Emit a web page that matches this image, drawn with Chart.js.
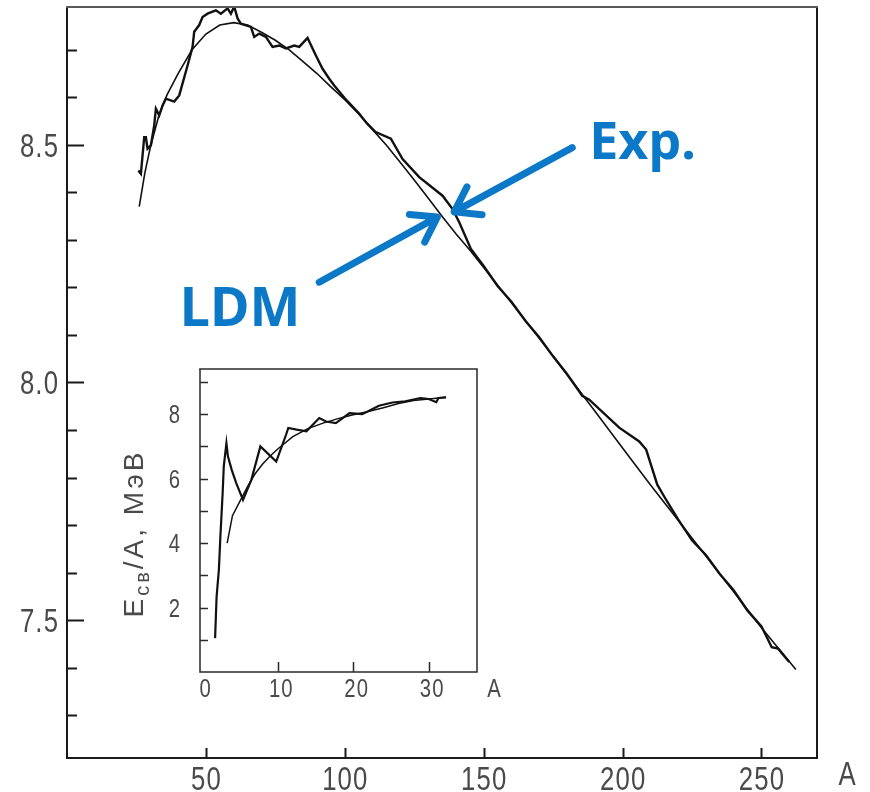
<!DOCTYPE html>
<html>
<head>
<meta charset="utf-8">
<title>Binding energy per nucleon</title>
<script src="https://cdn.jsdelivr.net/npm/chart.js@4.4.1/dist/chart.umd.min.js"></script>
<style>
  body { margin: 0; background: #fff; }
  #wrap { position: relative; width: 870px; height: 792px; }
  #main { position: absolute; left: 0; top: 0; }
  #inset { position: absolute; left: 100px; top: 360px; }
</style>
</head>
<body>
<div id="wrap">
  <canvas id="main" width="870" height="792"></canvas>
  <canvas id="inset" width="420" height="360"></canvas>
</div>
<script>
// binding energy per nucleon (MeV) against mass number A, [A, E/A]
var expMain = [[25.7,8.446],[26.6,8.439],[27.8,8.516],[28.4,8.516],[29.0,8.492],[30.2,8.499],[31.4,8.541],
  [32.0,8.576],[33.2,8.562],[34.4,8.583],[35.6,8.597],[38.6,8.591],[40.4,8.604],[43.4,8.667],[45.2,8.706],
  [45.8,8.738],[47.6,8.752],[48.8,8.769],[50.6,8.776],[53.6,8.783],[55.4,8.776],[57.8,8.787],[59.0,8.776],
  [60.2,8.791],[61.4,8.766],[62.6,8.755],[66.2,8.748],[67.4,8.727],[69.2,8.734],[71.6,8.727],[74.0,8.706],
  [76.4,8.709],[78.8,8.703],[81.8,8.709],[83.6,8.706],[86.6,8.725],[89.6,8.688],[92.0,8.660],[94.4,8.639],
  [96.2,8.625],[100,8.598],[105,8.567],[108,8.545],[111.1,8.527],[116.6,8.513],[120.8,8.470],[126.8,8.432],
  [135.2,8.393],[138.8,8.365],[141.2,8.337],[145.4,8.281],[150,8.245],[155,8.203],[160,8.170],[165,8.130],
  [170,8.095],[175,8.055],[180,8.018],[185.5,7.972],[188,7.964],[198.8,7.905],[206,7.876],[208.5,7.859],
  [212.5,7.785],[215.3,7.757],[220,7.712],[225,7.668],[230,7.637],[235,7.597],[240,7.563],[245,7.520],
  [250,7.487],[253.7,7.443],[256,7.440],[260,7.412]];

// liquid drop model
var ldmMain = [[26,8.370],[28,8.440],[30,8.495],[33,8.560],[36,8.605],[40,8.650],[45,8.700],[50,8.733],
  [55,8.752],[60,8.757],[65,8.752],[70,8.737],[75,8.720],[80,8.700],[85,8.675],[90,8.650],[95,8.622],
  [100,8.595],[105,8.565],[110,8.532],[115,8.499],[120,8.463],[125,8.426],[130,8.388],[135,8.350],
  [140,8.313],[145,8.279],[150,8.242],[160,8.168],[170,8.093],[180,8.017],[190,7.940],[200,7.862],
  [210,7.785],[220,7.710],[230,7.635],[240,7.560],[250,7.484],[262.4,7.396]];

// light nuclei, inset
var expInset = [[1.7,1.05],[1.9,2.34],[2.2,3.17],[2.4,4.2],[2.7,5.55],[2.85,6.38],[3.2,7.1],[3.4,6.69],
  [3.9,6.27],[4.5,5.86],[5.4,5.34],[6.5,5.96],[7.7,7.0],[9.8,6.53],[11.1,7.36],[11.4,7.57],[12.5,7.52],
  [13.8,7.47],[15.5,7.88],[16.4,7.77],[17.7,7.72],[19.5,8.03],[21.2,8.0],[23.4,8.26],[25.2,8.36],
  [26.9,8.40],[28.9,8.50],[30.0,8.47],[31.0,8.37],[31.3,8.5],[32.3,8.52]];
var ldmInset = [[3.3,4.0],[4,4.85],[5,5.3],[6,5.75],[7,6.15],[8,6.45],[9,6.7],[10,6.92],[12,7.3],
  [14,7.55],[16,7.72],[18,7.86],[20,7.98],[22,8.08],[24,8.2],[26,8.33],[28,8.42],[30,8.47],[32.3,8.52]];

var mainXLabels = [50, 100, 150, 200, 250];
var mainYLabels = [7.5, 8.0, 8.5];
var insetXLabels = [0, 10, 20, 30];
var insetYLabels = [2, 4, 6, 8];

// arrow callouts, [tail, tip] in data units
var expArrow = [[181.9, 8.494], [139.4, 8.359]];
var ldmArrow = [[90.8, 8.211], [133.3, 8.348]];
var expText = [188, 8.470];
var ldmText = [40.6, 8.118];

var tickFont = "'Liberation Sans', Arimo, sans-serif";
var noteFont = "'Noto Sans', 'DejaVu Sans', sans-serif";
var blue = '#0b79c7';
var inkGray = '#4a4a4a';

function toPts(arr) {
  return arr.map(function (p) { return { x: p[0], y: p[1] }; });
}

function hasLabel(list, v) {
  return list.some(function (l) { return Math.abs(l - v) < 1e-6; });
}

// narrow, slightly spaced label, anchored on its right edge or centre
function narrowText(ctx, txt, x, y, size, align) {
  var squeeze = 0.78, gap = 1.5;
  ctx.save();
  ctx.font = size + 'px ' + tickFont;
  ctx.letterSpacing = gap + 'px';
  ctx.fillStyle = inkGray;
  ctx.textBaseline = 'alphabetic';
  ctx.textAlign = 'left';
  var w = (ctx.measureText(txt).width - gap) * squeeze;
  ctx.translate(align === 'right' ? x - w : x - w / 2, y);
  ctx.scale(squeeze, 1);
  ctx.fillText(txt, 0, 0);
  ctx.restore();
}

function noPad(s) {
  s.paddingTop = 0; s.paddingBottom = 0; s.paddingLeft = 0; s.paddingRight = 0;
}

// frame, inward tick marks and tick labels
function framePlugin(cfg) {
  return {
    id: 'frame',
    afterDraw: function (chart) {
      var ctx = chart.ctx, a = chart.chartArea;
      var xs = chart.scales.x, ys = chart.scales.y;
      ctx.save();
      ctx.lineCap = 'butt';
      ctx.strokeStyle = cfg.color;
      ctx.lineWidth = cfg.width;
      ctx.beginPath();
      ctx.moveTo(a.left, a.top);
      ctx.lineTo(a.left, a.bottom);
      ctx.lineTo(a.right, a.bottom);
      ctx.lineTo(a.right, a.top);
      ctx.stroke();
      ctx.strokeStyle = cfg.topColor;
      ctx.beginPath();
      ctx.moveTo(a.left - cfg.width / 2, a.top);
      ctx.lineTo(a.right + cfg.width / 2, a.top);
      ctx.stroke();

      ctx.strokeStyle = cfg.color;
      ctx.lineWidth = cfg.tickWidth;
      ctx.beginPath();
      ys.ticks.forEach(function (t) {
        var py = Math.round(ys.getPixelForValue(t.value)) + 0.5;
        if (py >= a.bottom - 2 || py <= a.top + 2) return;
        var len = hasLabel(cfg.yLabels, t.value) ? cfg.yMajor : cfg.yMinor;
        ctx.moveTo(a.left, py);
        ctx.lineTo(a.left + len, py);
      });
      xs.ticks.forEach(function (t) {
        if (!hasLabel(cfg.xTicks, t.value)) return;
        var px = Math.round(xs.getPixelForValue(t.value)) + 0.5;
        ctx.moveTo(px, a.bottom);
        ctx.lineTo(px, a.bottom - cfg.xLen);
      });
      ctx.stroke();
      ctx.restore();

      cfg.yLabels.forEach(function (v) {
        narrowText(ctx, cfg.yFmt(v), a.left - cfg.yPad, ys.getPixelForValue(v) + cfg.size * 0.36, cfg.size, 'right');
      });
      cfg.xLabels.forEach(function (v) {
        narrowText(ctx, String(v), xs.getPixelForValue(v) + cfg.xShift, a.bottom + cfg.xBase, cfg.size, 'center');
      });
      // axis letter past the end of the x axis
      narrowText(ctx, 'A', a.right + cfg.aDx, a.bottom + cfg.aDy, cfg.size, 'center');
    }
  };
}

function arrow(ctx, x0, y0, x1, y1) {
  var ang = Math.atan2(y1 - y0, x1 - x0), head = 28, spread = 0.6;
  ctx.beginPath();
  ctx.moveTo(x0, y0);
  ctx.lineTo(x1, y1);
  ctx.moveTo(x1 - head * Math.cos(ang - spread), y1 - head * Math.sin(ang - spread));
  ctx.lineTo(x1, y1);
  ctx.lineTo(x1 - head * Math.cos(ang + spread), y1 - head * Math.sin(ang + spread));
  ctx.stroke();
}

var calloutPlugin = {
  id: 'callouts',
  afterDraw: function (chart) {
    var ctx = chart.ctx, xs = chart.scales.x, ys = chart.scales.y;
    function px(p) { return [xs.getPixelForValue(p[0]), ys.getPixelForValue(p[1])]; }
    ctx.save();
    ctx.strokeStyle = blue;
    ctx.lineWidth = 7;
    ctx.lineCap = 'round';
    ctx.lineJoin = 'round';
    [expArrow, ldmArrow].forEach(function (ar) {
      var t = px(ar[0]), h = px(ar[1]);
      arrow(ctx, t[0], t[1], h[0], h[1]);
    });
    ctx.fillStyle = blue;
    ctx.textAlign = 'left';
    ctx.textBaseline = 'alphabetic';
    ctx.font = 'bold 52px ' + noteFont;
    var e = px(expText);
    ctx.fillText('Exp.', e[0], e[1]);
    ctx.font = 'bold 54px ' + noteFont;
    var l = px(ldmText);
    ctx.fillText('LDM', l[0], l[1]);
    ctx.restore();
  }
};

// rotated title of the inset, with subscript
var insetTitlePlugin = {
  id: 'insetTitle',
  afterDraw: function (chart) {
    var ctx = chart.ctx, a = chart.chartArea;
    var parts = [['E', 28, 0], ['св', 20, 6], ['/A, МэВ', 28, 0]];
    ctx.save();
    ctx.fillStyle = inkGray;
    ctx.textBaseline = 'alphabetic';
    ctx.textAlign = 'left';
    ctx.letterSpacing = '3px';
    var total = 0;
    parts.forEach(function (p) {
      ctx.font = p[1] + 'px ' + tickFont;
      total += ctx.measureText(p[0]).width;
    });
    ctx.translate(a.left - 57, (a.top + a.bottom) / 2 + 13);
    ctx.rotate(-Math.PI / 2);
    var x = -total / 2;
    parts.forEach(function (p) {
      ctx.font = p[1] + 'px ' + tickFont;
      ctx.fillText(p[0], x, p[2]);
      x += ctx.measureText(p[0]).width;
    });
    ctx.restore();
  }
};

function lineSet(data, width) {
  return {
    data: toPts(data),
    borderColor: '#111',
    borderWidth: width,
    pointRadius: 0,
    fill: false,
    tension: 0
  };
}

function axis(min, max, step, size) {
  return {
    type: 'linear', min: min, max: max,
    grid: { display: false }, border: { display: false },
    ticks: { display: false, stepSize: step, includeBounds: false, autoSkip: false },
    afterFit: function (s) { noPad(s); size(s); }
  };
}

new Chart(document.getElementById('main'), {
  type: 'line',
  data: { datasets: [lineSet(expMain, 2.4), lineSet(ldmMain, 1.6)] },
  options: {
    responsive: false,
    animation: false,
    events: [],
    layout: { padding: { left: 0, top: 7, right: 53, bottom: 0 } },
    plugins: { legend: { display: false }, tooltip: { enabled: false } },
    scales: {
      x: axis(0, 270, 50, function (s) { s.height = 34; }),
      y: axis(7.21, 8.79, 0.1, function (s) { s.width = 67; })
    }
  },
  plugins: [framePlugin({
    color: '#1a1a1a', topColor: '#5a5a5a', width: 2, tickWidth: 2,
    yLabels: mainYLabels, yMajor: 17, yMinor: 10, xTicks: mainXLabels, xLen: 10,
    xLabels: mainXLabels, size: 33, yPad: 9, xBase: 32, xShift: 0,
    yFmt: function (v) { return v.toFixed(1); },
    aDx: 30, aDy: 27
  }), calloutPlugin]
});

new Chart(document.getElementById('inset'), {
  type: 'line',
  data: { datasets: [lineSet(expInset, 2.2), lineSet(ldmInset, 1.5)] },
  options: {
    responsive: false,
    animation: false,
    events: [],
    layout: { padding: { left: 0, top: 9, right: 43, bottom: 0 } },
    plugins: { legend: { display: false }, tooltip: { enabled: false } },
    scales: {
      x: axis(-0.3, 36.4, 10, function (s) { s.height = 48; }),
      y: axis(0, 9.4, 1, function (s) { s.width = 100; })
    }
  },
  plugins: [framePlugin({
    color: '#2a2a2a', topColor: '#2a2a2a', width: 1.5, tickWidth: 1.5,
    yLabels: insetYLabels, yMajor: 8, yMinor: 8, xTicks: [10, 20, 30], xLen: 10,
    xLabels: insetXLabels, size: 26, yPad: 20, xBase: 25, xShift: 3,
    yFmt: function (v) { return String(v); },
    aDx: 17, aDy: 25
  }), insetTitlePlugin]
});
</script>
</body>
</html>
